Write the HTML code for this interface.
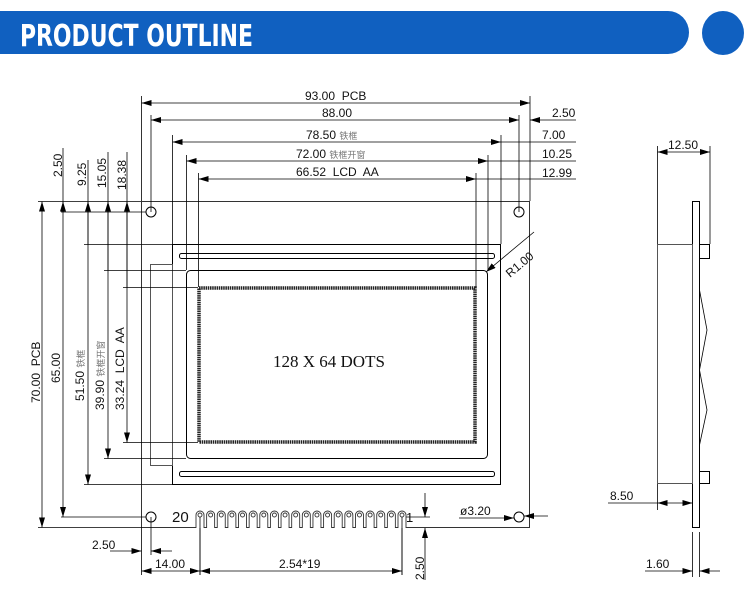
<!DOCTYPE html>
<html><head><meta charset="utf-8"><style>
html,body{margin:0;padding:0;background:#fff;width:750px;height:613px;overflow:hidden}
svg{display:block}
text{font-family:"Liberation Sans","Noto Sans CJK SC",sans-serif;fill:#111}
.cn{font-size:9px;fill:#777}
</style></head><body>
<svg width="750" height="613" viewBox="0 0 750 613" xmlns="http://www.w3.org/2000/svg">
<defs>
<marker id="a" viewBox="0 0 10 6" refX="10" refY="3" markerWidth="10" markerHeight="6" orient="auto-start-reverse" markerUnits="userSpaceOnUse"><path d="M0,0 L10,3 L0,6z" fill="#000"/></marker>
<g id="pin"><path d="M-4,528 V515 A4,4 0 0 1 4,515 V528" fill="#fff" stroke="#333" stroke-width="0.9"/><circle cx="0" cy="515" r="2" fill="#fff" stroke="#333" stroke-width="0.9"/></g>
</defs>
<!-- banner -->
<path d="M0,11 H668 A21,21.5 0 0 1 668,54 H0Z" fill="#1060c0"/>
<ellipse cx="723" cy="33" rx="21" ry="22" fill="#1060c0"/>
<text x="20" y="46" style="font-family:'DejaVu Sans Condensed','Liberation Sans Narrow',sans-serif;font-weight:bold;font-size:30px;fill:#fff" textLength="233" lengthAdjust="spacingAndGlyphs">PRODUCT OUTLINE</text>

<g stroke="#000" stroke-width="1" fill="none">
<rect x="141.5" y="201.5" width="388" height="326" stroke="#333"/>
<circle cx="151" cy="212" r="5"/><circle cx="519" cy="212" r="5"/>
<circle cx="151" cy="517" r="5"/><circle cx="519" cy="517" r="5"/>
<rect x="172.5" y="244.5" width="328" height="240"/>
<rect x="179.5" y="253.5" width="315" height="5" rx="2"/>
<rect x="179.5" y="471.5" width="315" height="5" rx="2"/>
<rect x="150.5" y="264.5" width="22" height="201" stroke="#555"/>
<rect x="186.5" y="270.5" width="301" height="188" rx="4"/>
<rect x="199" y="288" width="276" height="154" stroke-width="3.5" stroke="#222" stroke-dasharray="1.5 0.7"/>
<g stroke-width="0.8">
<line x1="141.5" y1="96" x2="141.5" y2="201"/><line x1="530" y1="96" x2="530" y2="201"/>
<line x1="151" y1="115" x2="151" y2="212"/><line x1="519" y1="115" x2="519" y2="212"/>
<line x1="172.5" y1="135" x2="172.5" y2="244"/><line x1="501" y1="135" x2="501" y2="244"/>
<line x1="186.5" y1="155" x2="186.5" y2="270"/><line x1="488" y1="155" x2="488" y2="270"/>
<line x1="198.5" y1="173" x2="198.5" y2="287"/><line x1="476" y1="173" x2="476" y2="287"/>
<line x1="141.5" y1="103" x2="530" y2="103" marker-start="url(#a)" marker-end="url(#a)"/>
<line x1="151" y1="120" x2="519" y2="120" marker-start="url(#a)" marker-end="url(#a)"/>
<line x1="172.5" y1="142" x2="501" y2="142" marker-start="url(#a)" marker-end="url(#a)"/>
<line x1="186.5" y1="161" x2="488" y2="161" marker-start="url(#a)" marker-end="url(#a)"/>
<line x1="198.5" y1="179" x2="476" y2="179" marker-start="url(#a)" marker-end="url(#a)"/>
<line x1="530" y1="120" x2="576" y2="120" marker-start="url(#a)"/>
<line x1="501" y1="142" x2="576" y2="142"/>
<line x1="488" y1="161" x2="576" y2="161"/>
<line x1="476" y1="179" x2="576" y2="179"/>
<line x1="38" y1="201.5" x2="141" y2="201.5"/>
<line x1="61" y1="212" x2="146" y2="212"/>
<line x1="84" y1="244.5" x2="172" y2="244.5"/>
<line x1="104" y1="270.5" x2="186" y2="270.5"/>
<line x1="123" y1="287.5" x2="198" y2="287.5"/>
<line x1="38" y1="527.5" x2="141" y2="527.5"/>
<line x1="61" y1="517" x2="146" y2="517"/>
<line x1="84" y1="484.5" x2="172" y2="484.5"/>
<line x1="104" y1="458.5" x2="186" y2="458.5"/>
<line x1="123" y1="442.5" x2="198" y2="442.5"/>
<line x1="42" y1="201.5" x2="42" y2="527.5" marker-start="url(#a)" marker-end="url(#a)"/>
<line x1="63" y1="148" x2="63" y2="517" marker-end="url(#a)"/>
<line x1="63" y1="212" x2="63" y2="201.5" marker-end="url(#a)"/>
<line x1="88" y1="160" x2="88" y2="484.5" marker-end="url(#a)"/>
<line x1="88" y1="244.5" x2="88" y2="201.5" marker-end="url(#a)"/>
<line x1="108" y1="152" x2="108" y2="458.5" marker-end="url(#a)"/>
<line x1="108" y1="270.5" x2="108" y2="201.5" marker-end="url(#a)"/>
<line x1="127" y1="152" x2="127" y2="442.5" marker-end="url(#a)"/>
<line x1="127" y1="287.5" x2="127" y2="201.5" marker-end="url(#a)"/>
<line x1="534" y1="232" x2="486" y2="272" marker-end="url(#a)"/>
<line x1="141.5" y1="527" x2="141.5" y2="575"/>
<line x1="151" y1="517" x2="151" y2="555"/>
<line x1="110" y1="551" x2="141.5" y2="551" marker-end="url(#a)"/>
<line x1="172" y1="551" x2="151" y2="551" marker-end="url(#a)"/>
<line x1="200" y1="517" x2="200" y2="575"/>
<line x1="402" y1="517" x2="402" y2="575"/>
<line x1="141.5" y1="571" x2="200" y2="571" marker-start="url(#a)" marker-end="url(#a)"/>
<line x1="200" y1="571" x2="402" y2="571" marker-start="url(#a)" marker-end="url(#a)"/>
<line x1="405" y1="517" x2="430" y2="517"/>
<line x1="425" y1="493" x2="425" y2="517" marker-end="url(#a)"/>
<line x1="425" y1="580" x2="425" y2="528" marker-end="url(#a)"/>
<line x1="459" y1="518" x2="514" y2="518" marker-end="url(#a)"/>
<line x1="548" y1="516" x2="524" y2="516" marker-end="url(#a)"/>
</g>
<rect x="692.5" y="201.5" width="7" height="326"/>
<rect x="657.5" y="244.5" width="35" height="239" stroke="#555"/>
<rect x="699.5" y="244.5" width="10" height="14"/>
<rect x="699.5" y="471.5" width="10" height="12"/>
<polyline points="699.5,290 707,330 699.5,370 707,410 699.5,445" stroke-width="0.8"/>
<g stroke-width="0.8">
<line x1="657.5" y1="146" x2="657.5" y2="244"/><line x1="710" y1="146" x2="710" y2="244"/>
<line x1="657.5" y1="152" x2="710" y2="152" marker-start="url(#a)" marker-end="url(#a)"/>
<line x1="657.5" y1="484" x2="657.5" y2="510"/>
<line x1="608" y1="503" x2="657.5" y2="503"/>
<line x1="657.5" y1="503" x2="692.5" y2="503" marker-start="url(#a)" marker-end="url(#a)"/>
<line x1="692.5" y1="532" x2="692.5" y2="577"/><line x1="699.5" y1="532" x2="699.5" y2="577"/>
<line x1="645" y1="571" x2="692.5" y2="571" marker-end="url(#a)"/>
<line x1="720" y1="571" x2="699.5" y2="571" marker-end="url(#a)"/>
</g>
</g>
<!-- pins -->
<use href="#pin" x="200"/><use href="#pin" x="210.63"/><use href="#pin" x="221.26"/><use href="#pin" x="231.89"/><use href="#pin" x="242.53"/>
<use href="#pin" x="253.16"/><use href="#pin" x="263.79"/><use href="#pin" x="274.42"/><use href="#pin" x="285.05"/><use href="#pin" x="295.68"/>
<use href="#pin" x="306.32"/><use href="#pin" x="316.95"/><use href="#pin" x="327.58"/><use href="#pin" x="338.21"/><use href="#pin" x="348.84"/>
<use href="#pin" x="359.47"/><use href="#pin" x="370.11"/><use href="#pin" x="380.74"/><use href="#pin" x="391.37"/><use href="#pin" x="402"/>
<line x1="200" y1="517" x2="200" y2="575" stroke="#000" stroke-width="0.8"/>
<line x1="402" y1="517" x2="402" y2="575" stroke="#000" stroke-width="0.8"/>
<g font-size="12">
<text x="305" y="100">93.00&#160; PCB</text>
<text x="322" y="117">88.00</text>
<text x="306" y="139">78.50 <tspan class="cn">铁框</tspan></text>
<text x="296" y="158">72.00 <tspan class="cn">铁框开窗</tspan></text>
<text x="296" y="176">66.52&#160; LCD&#160; AA</text>
<text x="552" y="117">2.50</text>
<text x="542" y="139">7.00</text>
<text x="542" y="158">10.25</text>
<text x="542" y="177">12.99</text>
<text transform="translate(62,177) rotate(-90)">2.50</text>
<text transform="translate(86,186) rotate(-90)">9.25</text>
<text transform="translate(106,188) rotate(-90)">15.05</text>
<text transform="translate(126,190) rotate(-90)">18.38</text>
<text transform="translate(40,403) rotate(-90)">70.00&#160; PCB</text>
<text transform="translate(60,383) rotate(-90)">65.00</text>
<text transform="translate(84,401) rotate(-90)">51.50 <tspan class="cn">铁框</tspan></text>
<text transform="translate(104,410) rotate(-90)">39.90 <tspan class="cn">铁框开窗</tspan></text>
<text transform="translate(124,410) rotate(-90)">33.24&#160; LCD&#160; AA</text>
<text transform="translate(510,278) rotate(-40)">R1.00</text>
<text x="92" y="549">2.50</text>
<text x="155" y="568">14.00</text>
<text x="279" y="568">2.54*19</text>
<text transform="translate(424,580) rotate(-90)">2.50</text>
<text x="460" y="515">ø3.20</text>
<text x="172" y="522" font-size="15">20</text>
<text x="406" y="522" font-size="13">1</text>
<text x="668" y="149">12.50</text>
<text x="610" y="500">8.50</text>
<text x="646" y="568">1.60</text>
</g>
<text x="273" y="367" style="font-family:'Liberation Serif',serif;font-size:17px">128 X 64 DOTS</text>
</svg>
</body></html>
